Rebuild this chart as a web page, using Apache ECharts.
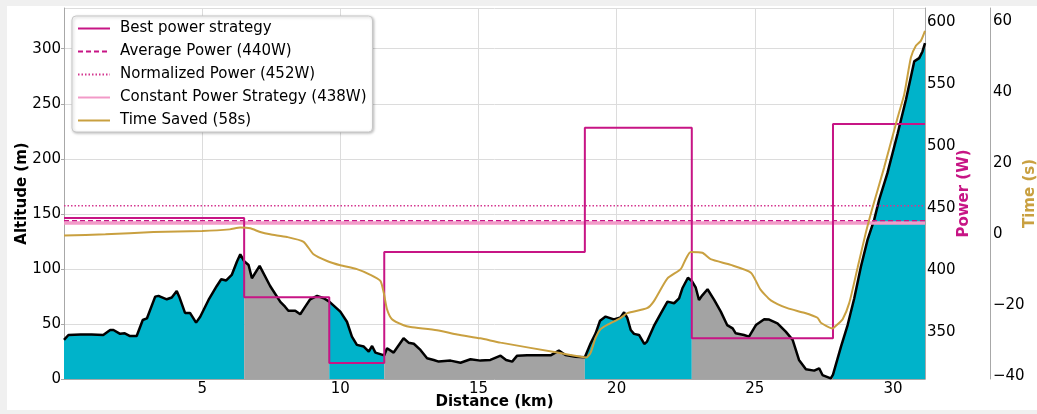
<!DOCTYPE html>
<html>
<head>
<meta charset="utf-8">
<script src="https://cdn.jsdelivr.net/npm/echarts@6/dist/echarts.min.js"></script>
<style>
  html, body { margin: 0; padding: 0; background: #f0f0f0; }
  #panel { position: absolute; left: 7px; top: 6px; width: 1030px; height: 404px; background: #fff; }
  #chart { position: absolute; left: 0; top: 0; width: 1037px; height: 414px; }
</style>
</head>
<body>
<div id="panel"></div>
<div id="chart"></div>
<script>
// altitude profile (km, m)
var profileKm = [0, 0.16, 0.6, 1.0, 1.42, 1.67, 1.79, 2.03, 2.2, 2.39, 2.63, 2.85, 3.0, 3.3, 3.42, 3.72, 3.9, 4.08, 4.17, 4.38,
    4.56, 4.78, 4.93, 5.23, 5.53, 5.69, 5.87, 6.07, 6.26, 6.38, 6.52, 6.68, 6.8, 7.08, 7.46, 7.83, 8.0, 8.12, 8.37, 8.55,
    8.73, 8.91, 9.16, 9.4, 9.6, 10.0, 10.24, 10.42, 10.6, 10.85, 11.03, 11.15, 11.27, 11.59, 11.69, 11.93, 12.29, 12.47, 12.66, 12.9,
    13.14, 13.38, 13.56, 13.99, 14.35, 14.71, 15.07, 15.43, 15.8, 16.0, 16.22, 16.4, 16.76, 17.61, 17.91, 18.15, 18.51, 18.85, 19.06, 19.24,
    19.4, 19.6, 19.9, 20.14, 20.27, 20.39, 20.51, 20.63, 20.81, 21.0, 21.1, 21.35, 21.6, 21.84, 22.08, 22.26, 22.38, 22.58, 22.72, 22.86,
    22.98, 23.1, 23.29, 23.53, 23.77, 24.0, 24.2, 24.31, 24.61, 24.79, 25.04, 25.34, 25.52, 25.82, 26.12, 26.37, 26.6, 26.85, 27.15, 27.33,
    27.45, 27.75, 27.83, 28.12, 28.36, 28.6, 28.84, 29.08, 29.32, 29.5, 29.8, 30.17, 30.47, 30.77, 30.95, 31.07, 31.16];
var profileAlt = [35.5, 40, 40.5, 40.5, 40, 44.5, 44.5, 41, 41.5, 39, 39, 53.6, 55, 74.8, 75.5, 72.4, 74, 80, 74.8, 60,
    60, 51.2, 56.5, 71.8, 84.5, 90.6, 89.5, 94.5, 106.7, 113.3, 107, 103.6, 91.5, 102.7, 84.5, 70, 65.7, 62, 62, 58.8,
    65.7, 72.4, 75.5, 73.4, 70.3, 61.2, 52, 38.5, 31, 29.5, 24.8, 30, 24, 21.5, 27.9, 24, 37, 33, 32, 26.4,
    18.8, 17.3, 15.8, 16.7, 14.8, 17.9, 16.7, 17.3, 21.2, 17.3, 15.8, 21.2, 21.5, 21.5, 25.8, 21.8, 20.3, 19.7, 32.4, 41.5,
    53, 56.7, 54.2, 56, 60.6, 55.2, 44.5, 41, 40, 31.8, 34, 48.2, 59.7, 70.3, 68.8, 73.3, 82.4, 92, 89, 83.3,
    71.8, 76, 81.5, 71.8, 61.2, 49, 46, 41.5, 40, 38.5, 49, 54.2, 54, 50.6, 43, 35.5, 17.3, 8.8, 7.6, 9.7,
    3.6, 0.6, 4, 29.4, 49, 73.3, 102, 126.4, 144.5, 162.7, 187, 223, 253.6, 288.5, 291.5, 297.5, 305];

// best power strategy: segment starts (km) and power (W)
var stepKm = [0, 6.52, 9.6, 11.59, 18.85, 22.72, 27.83, 31.16];
var stepPower = [442, 378, 325, 414.5, 515, 345, 518];

var avgPower = 440;
var normPower = 452;
var constPower = 438;

// time saved (km, s)
var timeKm = [0, 1.5, 3.24, 5.0, 6.0, 6.38, 6.74, 7.1, 7.46, 8.07, 8.67, 9.03, 9.52, 10.0, 10.6, 11.09, 11.45, 11.57, 11.69, 11.87,
    12.29, 12.54, 13.5, 14.23, 15.07, 15.8, 17.85, 18.7, 18.91, 19.06, 19.24, 19.42, 19.66, 20.14, 20.39, 21.1, 21.35, 21.84, 22.32, 22.5,
    22.68, 23.1, 23.4, 24.13, 24.86, 25.2, 25.58, 26.18, 26.79, 27.27, 27.39, 27.81, 28.0, 28.18, 28.42, 28.72, 29.02, 29.26, 29.68, 30.17,
    30.41, 30.65, 30.83, 31.01, 31.16];
var timeSaved = [-0.4, -0.1, 0.56, 0.85, 1.3, 1.8, 1.6, 0.56, -0.1, -0.85, -2.2, -5.7, -7.6, -8.8, -9.9, -11.5, -13.2, -16.5, -21.2, -24,
    -25.7, -26.2, -27.1, -28.3, -29.4, -30.6, -33.4, -34.6, -34.8, -33.4, -29.2, -26.8, -25.6, -23.7, -22.3, -20.9, -18.9, -12.5, -9.9, -7.1,
    -5.1, -5.3, -7.1, -8.7, -10.9, -15.6, -18.7, -20.9, -22.2, -23.6, -25, -26.6, -25.4, -24, -19.4, -9.5, 0.4, 7.4, 18.7, 32.8,
    39.4, 49.7, 53, 54.4, 57.2];

var PINK = '#c71585';
var GOLD = '#c9a040';
var FONT = 'DejaVu Sans';
var xMax = stepKm[stepKm.length - 1];

var chart = echarts.init(document.getElementById('chart'));

var series = [];
// filled segments, alternating teal / gray
for (var s = 0; s < stepKm.length - 1; s++) {
    var seg = [];
    for (var i = 0; i < profileKm.length; i++) {
        if (profileKm[i] >= stepKm[s] && profileKm[i] <= stepKm[s + 1]) seg.push([profileKm[i], profileAlt[i]]);
    }
    series.push({
        name: 'seg' + s,
        type: 'line',
        yAxisIndex: 0,
        data: seg,
        symbol: 'none',
        lineStyle: {width: 0},
        areaStyle: {color: s % 2 === 0 ? '#00b3ca' : '#a3a3a3', opacity: 1},
        z: 1
    });
}
series.push({
    name: 'profile',
    type: 'line',
    yAxisIndex: 0,
    data: profileKm.map(function (k, i) { return [k, profileAlt[i]]; }),
    symbol: 'none',
    lineStyle: {color: '#000', width: 2.5},
    z: 2
});

var stepData = stepPower.map(function (p, i) { return [stepKm[i], p]; });
stepData.push([xMax, stepPower[stepPower.length - 1]]);

function flat(v) { return [[0, v], [xMax, v]]; }

series.push({
    name: 'Constant Power Strategy (438W)', type: 'line', yAxisIndex: 1, data: flat(constPower),
    symbol: 'none', itemStyle: {color: '#f29ac8'}, lineStyle: {color: '#f29ac8', width: 3.5}, z: 3
});
series.push({
    name: 'Average Power (440W)', type: 'line', yAxisIndex: 1, data: flat(avgPower),
    symbol: 'none', itemStyle: {color: PINK}, lineStyle: {color: PINK, width: 1.3, type: [5, 3]}, z: 4
});
series.push({
    name: 'Normalized Power (452W)', type: 'line', yAxisIndex: 1, data: flat(normPower),
    symbol: 'none', itemStyle: {color: PINK}, lineStyle: {color: '#d4378f', width: 1.5, type: [1.5, 2]}, z: 4
});
series.push({
    name: 'Best power strategy', type: 'line', yAxisIndex: 1, data: stepData, step: 'end',
    symbol: 'none', itemStyle: {color: PINK}, lineStyle: {color: PINK, width: 2}, z: 5
});
series.push({
    name: 'Time Saved (58s)', type: 'line', yAxisIndex: 2,
    data: timeKm.map(function (k, i) { return [k, timeSaved[i]]; }),
    symbol: 'none', smooth: 0.2, itemStyle: {color: GOLD}, lineStyle: {color: GOLD, width: 2}, z: 6
});

var axisGray = '#a8a8a8';
var labelStyle = {color: '#000', fontSize: 15, fontFamily: FONT};

option = {
    animation: false,
    textStyle: {fontFamily: FONT},
    grid: {left: 64, right: 112, top: 8, bottom: 35, show: false, outerBoundsMode: 'none', containLabel: false},
    legend: {
        data: ['Best power strategy', 'Average Power (440W)', 'Normalized Power (452W)', 'Constant Power Strategy (438W)', 'Time Saved (58s)'],
        orient: 'vertical',
        left: 72,
        top: 16,
        padding: [5, 6, 4, 5],
        itemWidth: 32,
        itemHeight: 14,
        itemGap: 8,
        itemStyle: {opacity: 0},
        backgroundColor: '#fff',
        borderColor: '#c8c8c8',
        borderWidth: 1,
        borderRadius: 4,
        shadowColor: 'rgba(0,0,0,0.25)',
        shadowBlur: 3,
        shadowOffsetX: 1,
        shadowOffsetY: 1,
        textStyle: {color: '#000', fontSize: 15, fontFamily: FONT, padding: [0, 0, 0, 5]}
    },
    xAxis: {
        type: 'value',
        min: 0,
        max: xMax,
        interval: 5,
        name: 'Distance (km)',
        nameLocation: 'middle',
        nameGap: 16,
        nameMoveOverlap: false,
        nameTextStyle: {color: '#000', fontSize: 15, fontWeight: 'bold', fontFamily: FONT},
        axisLine: {show: true, lineStyle: {color: axisGray}},
        axisTick: {show: false},
        axisLabel: Object.assign({margin: 3, showMinLabel: false, showMaxLabel: false}, labelStyle),
        splitLine: {show: true, lineStyle: {color: '#dcdcdc'}}
    },
    yAxis: [
        {
            type: 'value',
            min: 0,
            max: 337,
            interval: 50,
            name: 'Altitude (m)',
            nameLocation: 'middle',
            nameRotate: 90,
            nameGap: 34,
            nameMoveOverlap: false,
            nameTextStyle: {color: '#000', fontSize: 15, fontWeight: 'bold', fontFamily: FONT},
            axisLine: {show: true, lineStyle: {color: axisGray}},
            axisTick: {show: true, length: 3, lineStyle: {color: axisGray}},
            axisLabel: Object.assign({margin: 3, showMaxLabel: false}, labelStyle),
            splitLine: {show: true, lineStyle: {color: '#dcdcdc'}}
        },
        {
            type: 'value',
            position: 'right',
            min: 312,
            max: 611.7,
            name: 'Power (W)',
            nameLocation: 'middle',
            nameRotate: 90,
            nameGap: 32,
            nameMoveOverlap: false,
            nameTextStyle: {color: PINK, fontSize: 15, fontWeight: 'bold', fontFamily: FONT},
            axisLine: {show: true, lineStyle: {color: axisGray}},
            axisTick: {show: false},
            axisLabel: Object.assign({margin: 2, showMinLabel: false, showMaxLabel: false,
                formatter: function (v) { return v % 50 === 0 ? String(v) : ''; }}, labelStyle),
            splitLine: {show: false}
        },
        {
            type: 'value',
            position: 'right',
            offset: 65,
            min: -40.85,
            max: 63.66,
            name: 'Time (s)',
            nameLocation: 'middle',
            nameRotate: 90,
            nameGap: 33,
            nameMoveOverlap: false,
            nameTextStyle: {color: GOLD, fontSize: 15, fontWeight: 'bold', fontFamily: FONT},
            axisLine: {show: true, lineStyle: {color: axisGray}},
            axisTick: {show: false},
            axisLabel: Object.assign({margin: 3, showMinLabel: false, showMaxLabel: false,
                formatter: function (v) { return v % 20 === 0 ? String(v).replace('-', '\u2212') : ''; }}, labelStyle),
            splitLine: {show: false}
        }
    ],
    series: series
};
chart.setOption(option);
</script>
</body>
</html>
